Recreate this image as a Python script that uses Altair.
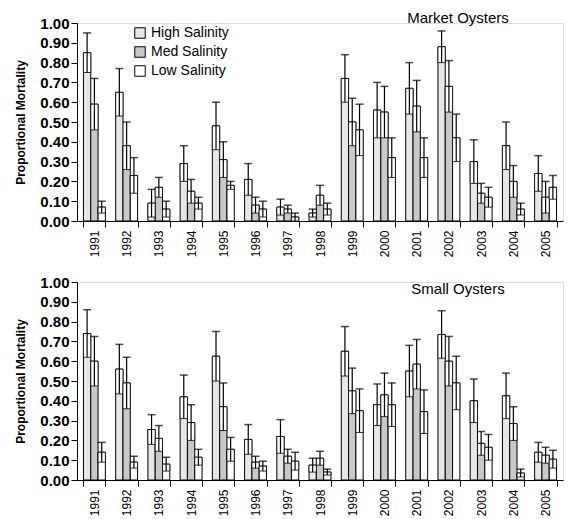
import altair as alt
import pandas as pd

years = [str(y) for y in range(1991, 2006)]
series = ["High Salinity", "Med Salinity", "Low Salinity"]
fills = ["#e6e6e6", "#c8c8c8", "#ffffff"]
y_ticks = [0.0, 0.1, 0.2, 0.3, 0.4, 0.5, 0.6, 0.7, 0.8, 0.9, 1.0]

# Market oysters: mean and top of error bar
mk_high = [0.85, 0.65, 0.09, 0.29, 0.48, 0.21, 0.07, 0.04, 0.72, 0.56, 0.67, 0.88, 0.30, 0.38, 0.24]
mk_high_up = [0.95, 0.77, 0.16, 0.38, 0.60, 0.29, 0.11, 0.06, 0.84, 0.70, 0.80, 0.96, 0.41, 0.50, 0.33]
mk_med = [0.59, 0.38, 0.17, 0.15, 0.31, 0.08, 0.06, 0.13, 0.50, 0.55, 0.58, 0.68, 0.14, 0.20, 0.12]
mk_med_up = [0.72, 0.50, 0.22, 0.21, 0.40, 0.12, 0.08, 0.18, 0.62, 0.68, 0.71, 0.81, 0.19, 0.28, 0.20]
mk_low = [0.07, 0.23, 0.06, 0.09, 0.18, 0.06, 0.02, 0.06, 0.46, 0.32, 0.32, 0.42, 0.12, 0.06, 0.17]
mk_low_up = [0.10, 0.32, 0.10, 0.12, 0.20, 0.10, 0.04, 0.09, 0.59, 0.42, 0.42, 0.54, 0.17, 0.09, 0.23]

# Small oysters
sm_high = [0.74, 0.56, 0.255, 0.42, 0.625, 0.205, 0.22, 0.075, 0.65, 0.38, 0.55, 0.735, 0.40, 0.425, 0.14]
sm_high_up = [0.86, 0.685, 0.33, 0.53, 0.75, 0.28, 0.305, 0.11, 0.775, 0.485, 0.68, 0.855, 0.51, 0.54, 0.19]
sm_med = [0.60, 0.49, 0.21, 0.29, 0.37, 0.09, 0.12, 0.11, 0.45, 0.43, 0.585, 0.60, 0.185, 0.285, 0.125]
sm_med_up = [0.725, 0.62, 0.275, 0.38, 0.49, 0.12, 0.155, 0.145, 0.565, 0.54, 0.71, 0.725, 0.245, 0.37, 0.165]
sm_low = [0.14, 0.09, 0.08, 0.115, 0.155, 0.07, 0.095, 0.04, 0.35, 0.38, 0.345, 0.49, 0.165, 0.035, 0.105]
sm_low_up = [0.19, 0.12, 0.115, 0.155, 0.215, 0.095, 0.14, 0.055, 0.46, 0.49, 0.455, 0.625, 0.23, 0.055, 0.15]

FONT = "Liberation Sans"


def build_df(means, ups):
    rows = []
    for s, m_list, u_list in zip(series, means, ups):
        for y, m, u in zip(years, m_list, u_list):
            lo = max(0.0, 2 * m - u)
            rows.append({"year": y, "series": s, "mean": m, "up": u, "lo": lo})
    return pd.DataFrame(rows)


def panel(df, title, title_y, show_legend):
    x = alt.X("year:N", sort=years,
              scale=alt.Scale(paddingInner=0.32, paddingOuter=0.2),
              axis=alt.Axis(title=None, labelAngle=270, tickBand="extent", tickSize=6,
                            labelFontSize=12, labelFont=FONT, labelColor="black",
                            domainColor="black", tickColor="black", labelPadding=3))
    xo = alt.XOffset("series:N", sort=series, scale=alt.Scale(paddingInner=0, paddingOuter=0))
    y_axis = alt.Axis(values=y_ticks, format=".2f", grid=False, labelOverlap=False,
                      labelFontSize=15, labelFontWeight="bold", labelFont=FONT,
                      labelColor="black",
                      domainColor="black", tickColor="black", tickSize=6, labelPadding=2,
                      title="Proportional Mortality", titleFont=FONT, titleFontSize=12,
                      titleFontWeight="bold", titleColor="black", titlePadding=12)
    yscale = alt.Scale(domain=[0, 1], nice=False)
    if show_legend:
        legend = alt.Legend(title=None, orient="none", legendX=56, legendY=3,
                            symbolType="square", symbolSize=110, symbolStrokeColor="black",
                            symbolStrokeWidth=1, labelFontSize=14, labelFont=FONT,
                            labelColor="black", rowPadding=3)
    else:
        legend = None
    base = alt.Chart(df).encode(x=x, xOffset=xo)
    bars = base.mark_bar(stroke="black", strokeWidth=1).encode(
        y=alt.Y("mean:Q", scale=yscale, axis=y_axis),
        fill=alt.Fill("series:N", sort=series,
                      scale=alt.Scale(domain=series, range=fills), legend=legend),
    )
    box = base.mark_bar(fill="white", stroke="black", strokeWidth=0.8).encode(
        y=alt.Y("lo:Q", scale=yscale, axis=y_axis), y2="mean:Q")
    rule = base.mark_rule(color="black", strokeWidth=1.2).encode(
        y=alt.Y("lo:Q", scale=yscale, axis=y_axis), y2="up:Q")
    cap = base.mark_tick(color="black", thickness=1.5, size=8).encode(
        y=alt.Y("up:Q", scale=yscale, axis=y_axis))
    txt = alt.Chart(pd.DataFrame({"t": [title]})).mark_text(
        font=FONT, fontSize=15, color="black", align="center", baseline="middle"
    ).encode(text="t:N", x=alt.value(381), y=alt.value(title_y))
    return alt.layer(bars, box, rule, cap, txt).properties(width=486, height=198)


top = panel(build_df([mk_high, mk_med, mk_low], [mk_high_up, mk_med_up, mk_low_up]),
            "Market Oysters", -5, True)
bottom = panel(build_df([sm_high, sm_med, sm_low], [sm_high_up, sm_med_up, sm_low_up]),
               "Small Oysters", 7, False)

chart = alt.vconcat(top, bottom, spacing=16).resolve_scale(fill="independent").properties(
    padding={"left": 14, "top": 10, "right": 0, "bottom": 0}
).configure_view(stroke=None).configure(background="white")

chart.save("out.html", embed_options={"renderer": "svg", "actions": False})
